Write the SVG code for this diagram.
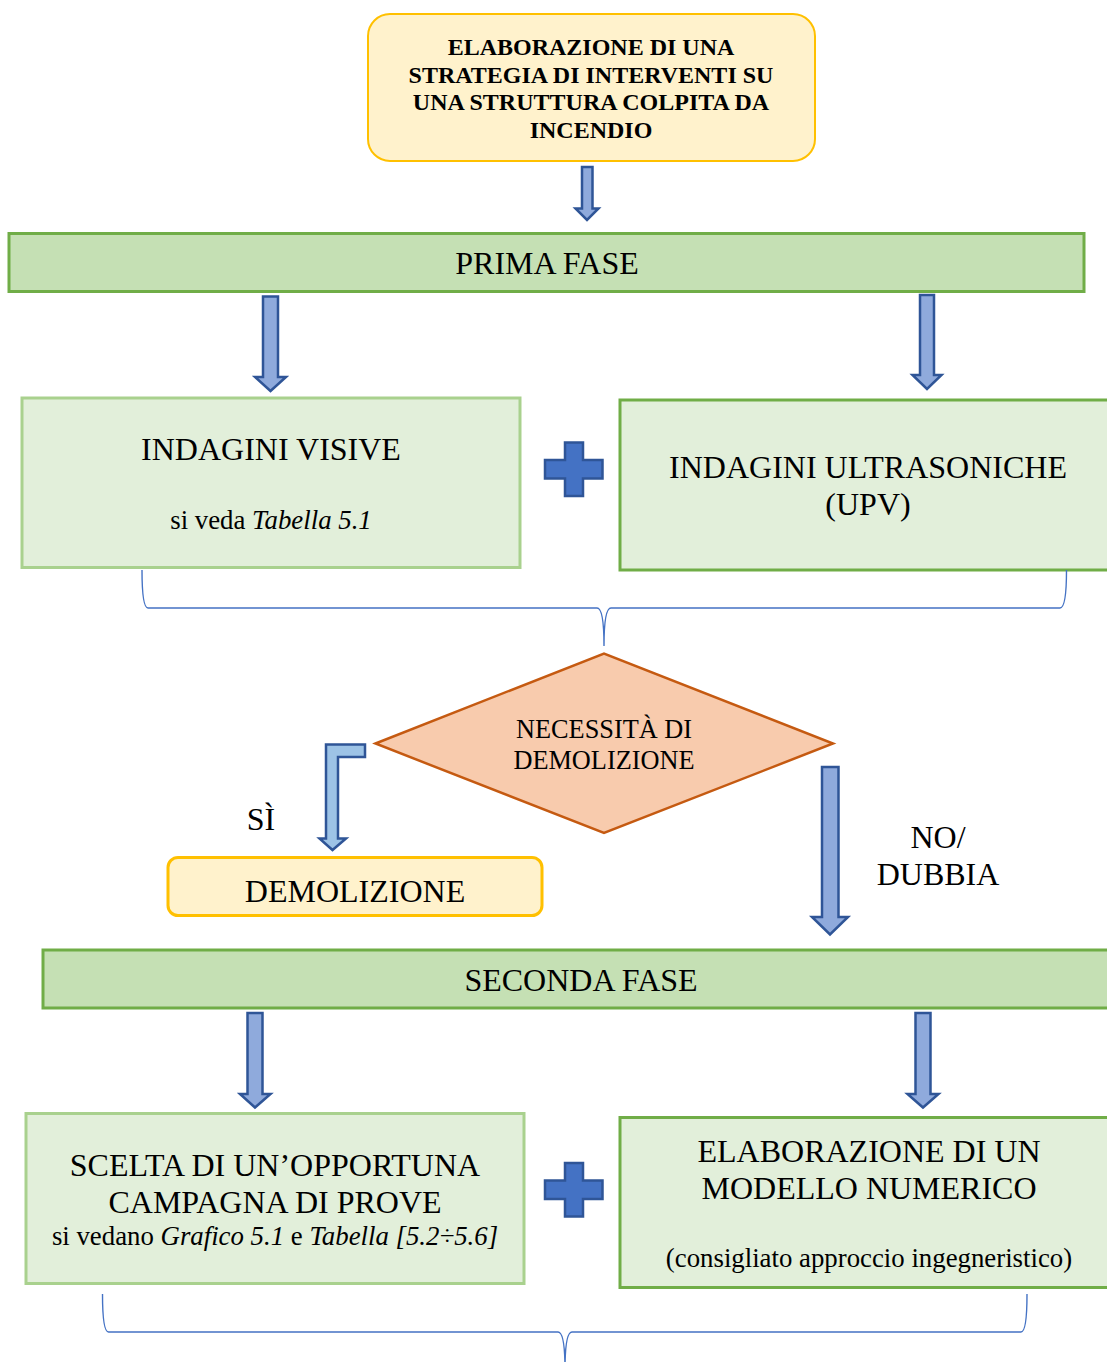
<svg xmlns="http://www.w3.org/2000/svg" width="1107" height="1362" viewBox="0 0 1107 1362">
  <style>
    text { font-family: "Liberation Serif", "Times New Roman", serif; fill: #000; text-anchor: middle; }
    .big { font-size: 32px; }
    .mid { font-size: 26.3px; }
    .small { font-size: 26.8px; }
    .title { font-size: 24px; font-weight: bold; }
    .it { font-style: italic; }
    .start { fill: #fff2cc; stroke: #ffc000; stroke-width: 2; }
    .phase { fill: #c5e0b4; stroke: #70ad47; stroke-width: 3; }
    .boxA { fill: #e2efda; stroke: #a9d18e; stroke-width: 3; }
    .boxB { fill: #e2efda; stroke: #70ad47; stroke-width: 3; }
    .decision { fill: #f8cbad; stroke: #c55a11; stroke-width: 2.5; }
    .demo { fill: #fff2cc; stroke: #ffc000; stroke-width: 3; }
    .arrow { fill: #8faadc; stroke: #2f5597; stroke-width: 2.5; stroke-linejoin: miter; }
    .arrow-light { fill: #9dc3e6; stroke: #2f5597; stroke-width: 2.5; }
    .plus { fill: #4472c4; stroke: #2f5597; stroke-width: 2.5; }
    .brace { fill: none; stroke: #4472c4; stroke-width: 1.4; }
  </style>

  <!-- start node -->
  <g id="start">
    <rect class="start" x="368" y="14" width="447" height="147" rx="22"/>
    <text class="title" x="591" y="55">ELABORAZIONE DI UNA</text>
    <text class="title" x="591" y="82.5">STRATEGIA DI INTERVENTI SU</text>
    <text class="title" x="591" y="110">UNA STRUTTURA COLPITA DA</text>
    <text class="title" x="591" y="137.5">INCENDIO</text>
  </g>

  <!-- first phase bar -->
  <g id="prima-fase">
    <rect class="phase" x="9" y="233.5" width="1075" height="58"/>
    <text class="big" x="547" y="274">PRIMA FASE</text>
  </g>

  <g id="indagini-visive">
    <rect class="boxA" x="22" y="398" width="498" height="169.5"/>
    <text class="big" x="271" y="460">INDAGINI VISIVE</text>
    <text class="small" x="271" y="529">si veda <tspan class="it">Tabella 5.1</tspan></text>
  </g>

  <g id="plus-1">
    <path class="plus" d="M565 442.5 H583 V460 H602.5 V478.5 H583 V496 H565 V478.5 H545 V460 H565 Z"/>
  </g>

  <g id="indagini-ultrasoniche">
    <rect class="boxB" x="620" y="400" width="500" height="170"/>
    <text class="big" x="868" y="478">INDAGINI ULTRASONICHE</text>
    <text class="big" x="868" y="514.5">(UPV)</text>
  </g>

  <g id="decisione">
    <polygon class="decision" points="375.5,743.5 604,653.5 833,743.5 604,833"/>
    <text class="mid" x="604" y="738">NECESSITÀ DI</text>
    <text class="mid" x="604" y="769">DEMOLIZIONE</text>
  </g>

  <g id="demolizione">
    <rect class="demo" x="168" y="857.5" width="374" height="58" rx="10"/>
    <text class="big" x="355" y="902">DEMOLIZIONE</text>
  </g>

  <!-- second phase bar -->
  <g id="seconda-fase">
    <rect class="phase" x="43" y="950" width="1075" height="58"/>
    <text class="big" x="581" y="991">SECONDA FASE</text>
  </g>

  <g id="campagna-prove">
    <rect class="boxA" x="26" y="1113.5" width="498" height="170"/>
    <text class="big" x="275" y="1176">SCELTA DI UN’OPPORTUNA</text>
    <text class="big" x="275" y="1213">CAMPAGNA DI PROVE</text>
    <text class="small" x="275" y="1245">si vedano <tspan class="it">Grafico 5.1</tspan> e <tspan class="it">Tabella [5.2÷5.6]</tspan></text>
  </g>

  <g id="plus-2">
    <path class="plus" d="M565 1163 H583 V1180.5 H602.5 V1199 H583 V1216.5 H565 V1199 H545 V1180.5 H565 Z"/>
  </g>

  <g id="modello-numerico">
    <rect class="boxB" x="620" y="1117.5" width="500" height="170"/>
    <text class="big" x="869" y="1162">ELABORAZIONE DI UN</text>
    <text class="big" x="869" y="1199">MODELLO NUMERICO</text>
    <text class="small" x="869" y="1267">(consigliato approccio ingegneristico)</text>
  </g>

  <!-- labels on the decision branches -->
  <g id="etichette">
    <text class="big" x="261" y="830">SÌ</text>
    <text class="big" x="938" y="848">NO/</text>
    <text class="big" x="938" y="885">DUBBIA</text>
  </g>

  <!-- connectors: block arrows and braces -->
  <g id="connectors">
    <path class="arrow" d="M582 167 H592.5 V208.5 H598.5 L587 220 L575.5 208.5 H582 Z"/>
    <path class="arrow" d="M263 296.5 H278 V377 H286 L270.5 391 L255 377 H263 Z"/>
    <path class="arrow" d="M920 295 H934 V375 H941.5 L927 389 L912.5 375 H920 Z"/>
    <path class="arrow-light" d="M365 744.5 H326 V838.5 H319.5 L332.5 850 L346 838.5 H338 V757 H365 Z"/>
    <path class="arrow" d="M822 767 H838.5 V917 H848 L830 934.5 L812 917 H822 Z"/>
    <path class="arrow" d="M247.5 1013 H262.5 V1094 H270.5 L255 1107.5 L240 1094 H247.5 Z"/>
    <path class="arrow" d="M915.5 1013 H930.5 V1094 H938.5 L923 1107.5 L907.5 1094 H915.5 Z"/>

    <path class="brace" d="M142 570 Q142 608 148 608 L597 608 Q604 608 604 646 Q604 608 611 608 L1060 608 Q1066.5 608 1066.5 570"/>
    <path class="brace" d="M102.5 1294 Q102.5 1332 108.5 1332 L558 1332 Q565 1332 565 1370 Q565 1332 572 1332 L1021 1332 Q1027 1332 1027 1294"/>
  </g>
</svg>
